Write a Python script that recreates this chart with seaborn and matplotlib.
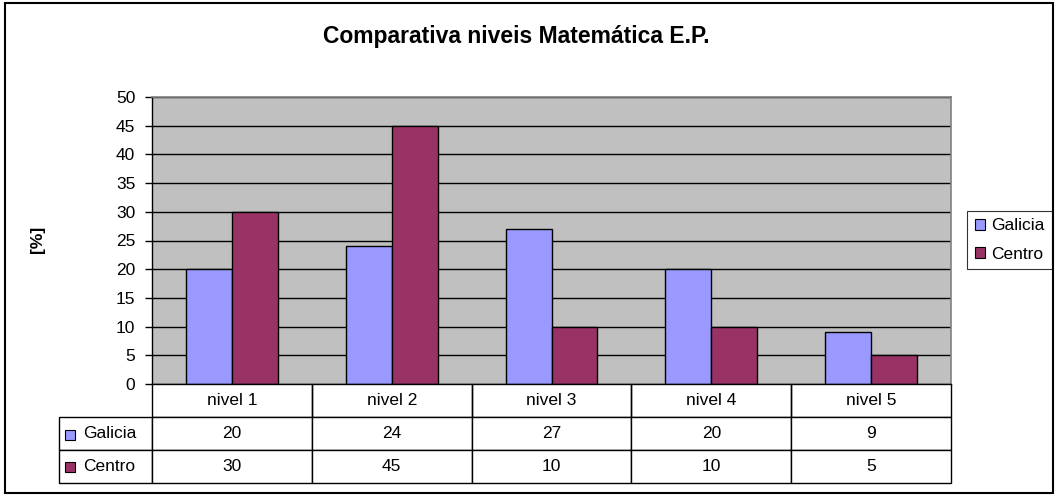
import matplotlib
matplotlib.use("Agg")
import matplotlib.pyplot as plt
from matplotlib.patches import Rectangle, Patch
import seaborn as sns
import pandas as pd

# ---- data ----
niveles = ["nivel 1", "nivel 2", "nivel 3", "nivel 4", "nivel 5"]
galicia = [20, 24, 27, 20, 9]
centro = [30, 45, 10, 10, 5]
series_names = ["Galicia", "Centro"]
title = "Comparativa niveis Matemática E.P."
ylabel = "[%]"
yticks = [0, 5, 10, 15, 20, 25, 30, 35, 40, 45, 50]

colors = ["#9999FF", "#993366"]

df = pd.DataFrame({
    "nivel": niveles * 2,
    "valor": galicia + centro,
    "serie": [series_names[0]] * len(niveles) + [series_names[1]] * len(niveles),
})

sns.set_style("white")
plt.rcParams["font.family"] = ["Liberation Sans", "DejaVu Sans"]
plt.rcParams["text.color"] = "black"
plt.rcParams["axes.labelcolor"] = "black"
plt.rcParams["xtick.color"] = "black"
plt.rcParams["ytick.color"] = "black"

FS = 12.5
W, H = 1058, 497
fig = plt.figure(figsize=(W / 100, H / 100), dpi=100)
ax = fig.add_axes([152 / W, 1 - 384 / H, 799 / W, 287 / H])
ax.set_facecolor("#C0C0C0")

sns.barplot(data=df, x="nivel", y="valor", hue="serie", palette=colors,
            width=0.575, saturation=1, edgecolor="black", linewidth=1,
            ax=ax, legend=False, order=niveles, hue_order=series_names)

ax.set_ylim(0, 50)
ax.set_xlim(-0.5, len(niveles) - 0.5)
ax.set_yticks(yticks)
ax.set_xticks([])
ax.set_xlabel("")
ax.set_ylabel("")
ax.yaxis.grid(True, color="black", linewidth=1)
ax.set_axisbelow(True)
ax.tick_params(axis="y", which="both", left=True, length=5, width=1,
               direction="out", color="black", labelcolor="black",
               labelsize=FS, pad=7)
for s in ["left", "bottom"]:
    ax.spines[s].set_color("black")
    ax.spines[s].set_linewidth(1)
for s in ["top", "right"]:
    ax.spines[s].set_color("#808080")
    ax.spines[s].set_linewidth(1.2)

# ---- data table below the plot ----
cell_text = [[str(v) for v in galicia], [str(v) for v in centro]]
th = (483 - 384) / 287
# bbox covers the data columns; the row-label column hangs off to the left
tbl = ax.table(cellText=cell_text, colLabels=niveles,
               colWidths=[160 / 800] * len(niveles),
               cellLoc="center", bbox=[0, -th, 1, th])
hcell = tbl[1, 0].get_height()
for r, name in enumerate(series_names, start=1):
    tbl.add_cell(r, -1, width=93 / 800, height=hcell, text=name, loc="left")
tbl.auto_set_font_size(False)
tbl.set_fontsize(FS)
for (r, c), cell in tbl.get_celld().items():
    cell.set_edgecolor("black")
    cell.set_linewidth(1)
    cell.set_facecolor("white")
    cell.get_text().set_color("black")
    if r == 0:
        cell.visible_edges = "BLR"
    if c == -1:
        cell.PAD = 0.26

# legend squares inside the table row labels
for i, col in enumerate(colors):
    yc = [435, 467][i]
    fig.patches.append(Rectangle((65 / W, 1 - (yc + 5) / H), 10 / W, 10 / H,
                                 transform=fig.transFigure, facecolor=col,
                                 edgecolor="black", linewidth=0.8, zorder=5))

# ---- legend ----
handles = [Patch(facecolor=colors[i], edgecolor="black", linewidth=0.8,
                 label=series_names[i]) for i in range(2)]
leg = ax.legend(handles=handles, loc="center left",
                bbox_to_anchor=(967 / W, 1 - 240 / H),
                bbox_transform=fig.transFigure, frameon=True, fancybox=False,
                edgecolor="black", fontsize=FS, handlelength=0.6,
                handleheight=0.6, handletextpad=0.35, labelspacing=0.75,
                borderaxespad=0, borderpad=0.45, labelcolor="black")
leg.get_frame().set_linewidth(0.8)

# ---- titles ----
fig.text(516 / W, 1 - 37 / H, title, ha="center", va="center",
         fontsize=16.5, fontweight="bold", color="black")
fig.text(38 / W, 1 - 239 / H, ylabel, ha="center", va="center",
         rotation=90, fontsize=FS, fontweight="bold", color="black")

# outer border
fig.patches.append(Rectangle((5 / W, 1 - 493 / H), 1048 / W, 490 / H,
                             transform=fig.transFigure, fill=False,
                             edgecolor="black", linewidth=1.5))

fig.savefig("out.png", dpi=100, facecolor="white")
